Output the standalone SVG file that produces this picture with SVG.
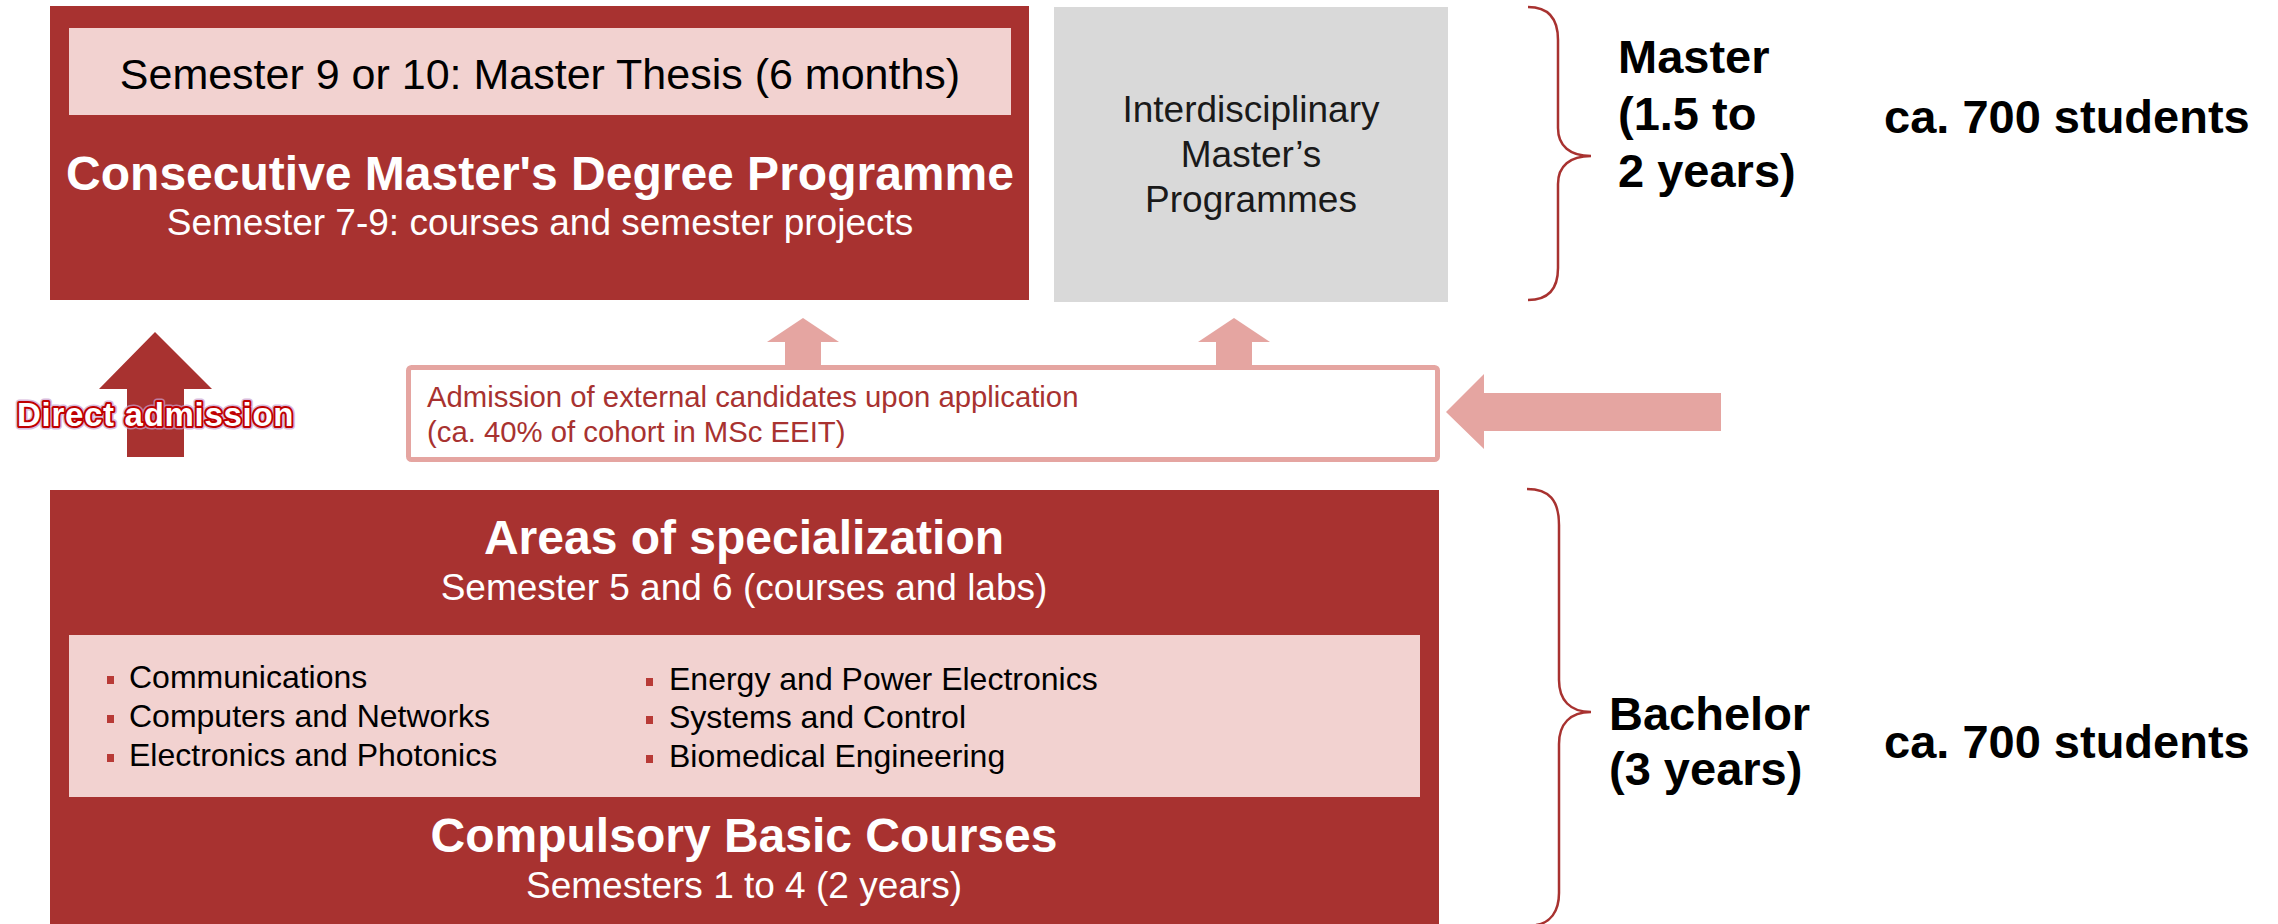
<svg xmlns="http://www.w3.org/2000/svg" width="2278" height="924" viewBox="0 0 2278 924">
  <style>
    text { font-family: "Liberation Sans", Arial, sans-serif; }
    .dark { fill: #a83230; }
    .pink { fill: #f2d2d0; }
    .soft { fill: #e5a5a1; }
    .grey { fill: #d9d9d9; }
    .wt { fill: #ffffff; }
    .bk { fill: #000000; }
    .b { font-weight: bold; }
    .mid { text-anchor: middle; }
    .brace { fill: none; stroke: #a83230; stroke-width: 2.5; }
    .item { font-size: 32px; fill: #000000; }
  </style>
  <defs>
    <rect id="bullet" width="7" height="8" fill="#b83a36"/>
  </defs>

  <rect width="2278" height="924" fill="#ffffff"/>

  <!-- Master programme block -->
  <g id="master-programme">
    <rect class="dark" x="50" y="6" width="979" height="294"/>
    <rect class="pink" x="69" y="28" width="942" height="87"/>
    <text class="bk mid" x="540" y="89" font-size="43">Semester 9 or 10: Master Thesis (6 months)</text>
    <text class="wt mid b" x="540" y="190" font-size="48">Consecutive Master's Degree Programme</text>
    <text class="wt mid" x="540" y="235" font-size="37">Semester 7-9: courses and semester projects</text>
  </g>

  <g id="interdisciplinary">
    <rect class="grey" x="1054" y="7" width="394" height="295"/>
    <text class="mid" x="1251" y="122" font-size="37" fill="#1a1a1a">Interdisciplinary</text>
    <text class="mid" x="1251" y="167" font-size="37" fill="#1a1a1a">Master’s</text>
    <text class="mid" x="1251" y="212" font-size="37" fill="#1a1a1a">Programmes</text>
  </g>

  <!-- External admission box -->
  <g id="external-admission">
    <rect x="408.5" y="367.5" width="1029" height="92" rx="3" fill="#ffffff" stroke="#e5a5a1" stroke-width="5"/>
    <text x="427" y="407" font-size="29.3" fill="#a83230">Admission of external candidates upon application</text>
    <text x="427" y="442" font-size="29.3" fill="#a83230">(ca. 40% of cohort in MSc EEIT)</text>
  </g>

  <!-- Bachelor programme block -->
  <g id="bachelor-programme">
    <rect class="dark" x="50" y="490" width="1389" height="434"/>
    <text class="wt mid b" x="744" y="554" font-size="48">Areas of specialization</text>
    <text class="wt mid" x="744" y="600" font-size="37">Semester 5 and 6 (courses and labs)</text>
    <rect class="pink" x="69" y="635" width="1351" height="162"/>
    <g id="specializations">
      <use href="#bullet" x="107" y="676"/>
      <text class="item" x="129" y="688">Communications</text>
      <use href="#bullet" x="107" y="715"/>
      <text class="item" x="129" y="727">Computers and Networks</text>
      <use href="#bullet" x="107" y="754"/>
      <text class="item" x="129" y="766">Electronics and Photonics</text>
      <use href="#bullet" x="646" y="678"/>
      <text class="item" x="669" y="690">Energy and Power Electronics</text>
      <use href="#bullet" x="646" y="716"/>
      <text class="item" x="669" y="728">Systems and Control</text>
      <use href="#bullet" x="646" y="755"/>
      <text class="item" x="669" y="767">Biomedical Engineering</text>
    </g>
    <text class="wt mid b" x="744" y="852" font-size="48">Compulsory Basic Courses</text>
    <text class="wt mid" x="744" y="898" font-size="37">Semesters 1 to 4 (2 years)</text>
  </g>

  <!-- Level labels with braces -->
  <g id="master-level">
    <path class="brace" d="M1528,7 C1548,7 1558,18 1558,40 L1558,128 C1558,146 1570,156 1591,156 C1570,156 1558,166 1558,184 L1558,268 C1558,290 1548,300 1528,300"/>
    <text class="bk b" x="1618" y="73" font-size="47">Master</text>
    <text class="bk b" x="1618" y="130" font-size="47">(1.5 to</text>
    <text class="bk b" x="1618" y="187" font-size="47">2 years)</text>
    <text class="bk b" x="1884" y="133" font-size="47">ca. 700 students</text>
  </g>

  <g id="bachelor-level">
    <path class="brace" d="M1527,489 C1549,489 1559,500 1559,525 L1559,680 C1559,700 1570,712 1591,712 C1570,712 1559,724 1559,744 L1559,893 C1559,912 1550,923 1536,925"/>
    <text class="bk b" x="1609" y="730" font-size="47">Bachelor</text>
    <text class="bk b" x="1609" y="785" font-size="47">(3 years)</text>
    <text class="bk b" x="1884" y="758" font-size="47">ca. 700 students</text>
  </g>

  <!-- Admission arrows -->
  <g id="connectors">
    <polygon class="dark" points="155,332 212,389 184,389 184,457 127,457 127,389 99,389"/>
    <polygon class="soft" points="803,318 839,342 821,342 821,366 785,366 785,342 767,342"/>
    <polygon class="soft" points="1234,318 1270,342 1252,342 1252,366 1216,366 1216,342 1198,342"/>
    <polygon class="soft" points="1446,412 1484,374 1484,393 1721,393 1721,431 1484,431 1484,449"/>
  </g>

  <g id="direct-admission-label">
    <text x="17" y="426" font-size="33" font-weight="bold" letter-spacing="0.7" fill="none" stroke="#caa0d0" stroke-width="7" stroke-linejoin="round" opacity="0.7">Direct admission</text>
    <text x="17" y="426" font-size="33" font-weight="bold" letter-spacing="0.7" fill="#ffffff" stroke="#c00000" stroke-width="4" stroke-linejoin="round" paint-order="stroke">Direct admission</text>
  </g>
</svg>
